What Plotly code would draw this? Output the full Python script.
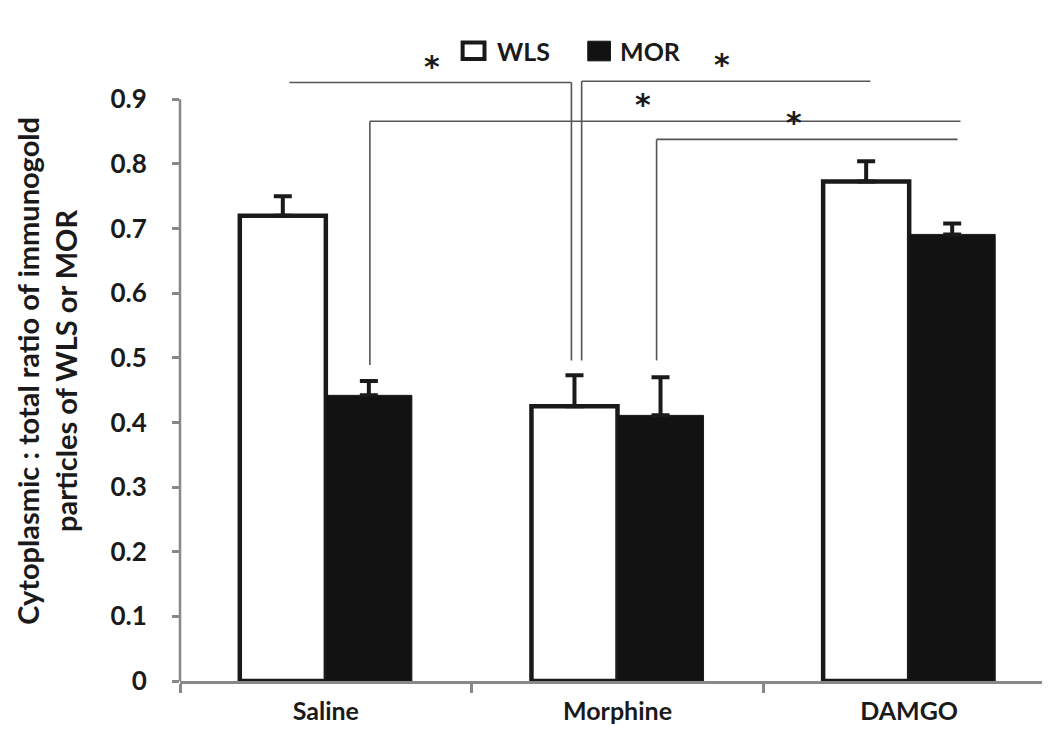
import plotly.graph_objects as go

categories = ["Saline", "Morphine", "DAMGO"]
wls = [0.72, 0.425, 0.773]
wls_err = [0.03, 0.048, 0.031]
mor = [0.442, 0.411, 0.691]
mor_err = [0.022, 0.059, 0.017]

# significance brackets: (x_start, x_end, y, x_drop, y_drop_end)
brackets = [
    (-0.125, 0.842, 0.926, 0.842, 0.496),
    (0.877, 1.867, 0.928, 0.877, 0.496),
    (0.151, 2.176, 0.866, 0.151, 0.489),
    (1.134, 2.166, 0.838, 1.134, 0.496),
]
stars = [(0.363, 0.926), (1.357, 0.928), (1.086, 0.866), (1.606, 0.838)]

FONT = "Lato"
INK = "#1a1a1a"

fig = go.Figure()

fig.add_trace(go.Bar(
    x=categories, y=wls, name="WLS",
    marker=dict(color="white", line=dict(color=INK, width=4.5)),
    error_y=dict(type="data", array=wls_err, arrayminus=[0] * 3, symmetric=False,
                 color=INK, thickness=4, width=9),
))
fig.add_trace(go.Bar(
    x=categories, y=mor, name="MOR",
    marker=dict(color="#121212", line=dict(color=INK, width=1)),
    error_y=dict(type="data", array=mor_err, arrayminus=[0] * 3, symmetric=False,
                 color=INK, thickness=4, width=9),
))

for x0, x1, y, xd, yd in brackets:
    fig.add_shape(type="line", x0=x0, x1=x1, y0=y, y1=y, xref="x", yref="y",
                  line=dict(color="#555", width=1.6))
    fig.add_shape(type="line", x0=xd, x1=xd, y0=y, y1=yd, xref="x", yref="y",
                  line=dict(color="#555", width=1.6))

for sx, sy in stars:
    fig.add_annotation(x=sx, y=sy, text="<b>*</b>", showarrow=False, xref="x", yref="y",
                       yanchor="bottom", yshift=-3, font=dict(size=30, color=INK, family="DejaVu Sans"))

# y axis line only from 0 to 0.9
fig.add_shape(type="line", x0=0, x1=0, y0=0, y1=0.9, xref="paper", yref="y",
              line=dict(color="#888", width=2.5))

# legend drawn by hand
fig.add_shape(type="rect", x0=0.323, x1=0.348, y0=1.013, y1=1.040, xref="paper", yref="paper",
              line=dict(color=INK, width=4), fillcolor="white")
fig.add_annotation(x=0.360, y=1.026, text="<b>WLS</b>", showarrow=False, xref="paper", yref="paper",
                   xanchor="left", yanchor="middle", font=dict(size=25, color=INK, family=FONT))
fig.add_shape(type="rect", x0=0.466, x1=0.492, y0=1.010, y1=1.042, xref="paper", yref="paper",
              line=dict(color=INK, width=1), fillcolor="#121212")
fig.add_annotation(x=0.500, y=1.026, text="<b>MOR</b>", showarrow=False, xref="paper", yref="paper",
                   xanchor="left", yanchor="middle", font=dict(size=25, color=INK, family=FONT))

# y axis title
fig.add_annotation(x=-0.152, y=0.48, xref="paper", yref="y", showarrow=False, textangle=-90,
                   text="<b>Cytoplasmic : total ratio of immunogold<br>particles of WLS or MOR</b>",
                   font=dict(size=29, color=INK, family=FONT), xanchor="center", yanchor="middle")

fig.update_layout(
    width=1050, height=748,
    margin=dict(l=172, r=3, t=59, b=75),
    plot_bgcolor="white", paper_bgcolor="white",
    barmode="group", bargap=0.41, bargroupgap=0,
    showlegend=False,
    font=dict(family=FONT, color=INK),
)
fig.update_xaxes(
    showline=True, linecolor="#888", linewidth=2.5,
    ticks="outside", tickson="boundaries", ticklen=9, tickcolor="#888", tickwidth=2.5,
    tickfont=dict(size=25, family=FONT, color=INK, weight="bold"),
    showgrid=False, range=[-0.5, 2.5], ticklabelstandoff=6,
)
fig.update_yaxes(
    range=[0, 0.95], showline=False, showgrid=False, zeroline=False,
    tickvals=[0, 0.1, 0.2, 0.3, 0.4, 0.5, 0.6, 0.7, 0.8, 0.9],
    ticktext=["0", "0.1", "0.2", "0.3", "0.4", "0.5", "0.6", "0.7", "0.8", "0.9"],
    ticks="outside", ticklen=7, tickcolor="#888", tickwidth=2.5,
    tickfont=dict(size=26, family=FONT, color=INK, weight="bold"),
    ticklabelstandoff=20,
)

fig.write_html("out.html")
